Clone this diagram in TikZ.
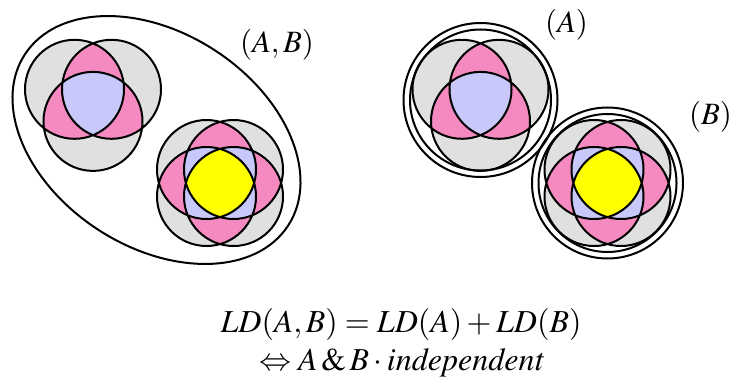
\documentclass[tikz,border=0pt]{standalone}
\usepackage{mathptmx}
\usetikzlibrary{positioning}
\definecolor{vgray}{RGB}{224,224,224}
\definecolor{vpink}{RGB}{244,138,192}
\definecolor{vlav}{RGB}{200,200,250}
\definecolor{vyel}{RGB}{255,255,0}
\tikzset{
  ring/.style={draw=black, line width=2pt},
  lbl/.style={font=\fontsize{31}{35}\selectfont, anchor=base, inner sep=0pt},
  formula/.style={font=\fontsize{32}{36}\selectfont, anchor=base, inner sep=0pt},
  % three overlapping circles
  three/.pic={
    \coordinate (-a) at (-18.5,10.7);
    \coordinate (-b) at (18.5,10.7);
    \coordinate (-c) at (0,-21.4);
    \fill[vgray] (-a) circle[radius=49.5] (-b) circle[radius=49.5] (-c) circle[radius=49.5];
    \foreach \p/\q in {a/b,a/c,b/c}{
      \begin{scope}
        \clip (-\p) circle[radius=49.5];
        \fill[vpink] (-\q) circle[radius=49.5];
      \end{scope}
    }
    \begin{scope}
      \clip (-a) circle[radius=49.5];
      \clip (-b) circle[radius=49.5];
      \fill[vlav] (-c) circle[radius=49.5];
    \end{scope}
    \draw[ring] (-a) circle[radius=49.5] (-b) circle[radius=49.5] (-c) circle[radius=49.5];
  },
  % four overlapping circles
  four/.pic={
    \coordinate (-a) at (-13.5,13.5);
    \coordinate (-b) at (13.5,13.5);
    \coordinate (-c) at (13.5,-13.5);
    \coordinate (-d) at (-13.5,-13.5);
    \fill[vgray] (-a) circle[radius=49.5] (-b) circle[radius=49.5]
                 (-c) circle[radius=49.5] (-d) circle[radius=49.5];
    \foreach \p/\q in {a/b,a/c,a/d,b/c,b/d,c/d}{
      \begin{scope}
        \clip (-\p) circle[radius=49.5];
        \fill[vpink] (-\q) circle[radius=49.5];
      \end{scope}
    }
    \foreach \p/\q/\r in {a/b/c,a/b/d,a/c/d,b/c/d}{
      \begin{scope}
        \clip (-\p) circle[radius=49.5];
        \clip (-\q) circle[radius=49.5];
        \fill[vlav] (-\r) circle[radius=49.5];
      \end{scope}
    }
    \begin{scope}
      \clip (-a) circle[radius=49.5];
      \clip (-b) circle[radius=49.5];
      \clip (-c) circle[radius=49.5];
      \fill[vyel] (-d) circle[radius=49.5];
    \end{scope}
    \draw[ring] (-a) circle[radius=49.5] (-b) circle[radius=49.5]
                (-c) circle[radius=49.5] (-d) circle[radius=49.5];
  },
}
\begin{document}
\begin{tikzpicture}[x=1pt, y=1pt]
  \useasboundingbox (0,0) rectangle (733,378);

  % joint system (A,B)
  \pic (abA) at (93,278) {three};
  \pic (abB) at (220,195) {four};
  \draw[ring, rotate around={-33:(156.5,238)}] (156.5,238) ellipse[x radius=157, y radius=107];
  \node[lbl] (labAB) at (277,325) {$(A,B)$};

  % separate systems
  \pic (sA) at (480.5,278) {three};
  \draw[ring] (480.5,278) circle[radius=70.5] (480.5,278) circle[radius=77];
  \node[lbl] (labA) at (566.5,345) {$(A)$};
  \pic (sB) at (607.5,195) {four};
  \draw[ring] (607.5,195) circle[radius=69] (607.5,195) circle[radius=75.5];
  \node[lbl] (labB) at (710.5,253) {$(B)$};

  % formula
  \node[formula] (eq) at (401,46) {$LD(A,B)=LD(A)+LD(B)$};
  \node[formula] (iff) at (401.5,8) {$\Leftrightarrow A\,\&\,B\cdot \mathit{independent}$};
\end{tikzpicture}
\end{document}
